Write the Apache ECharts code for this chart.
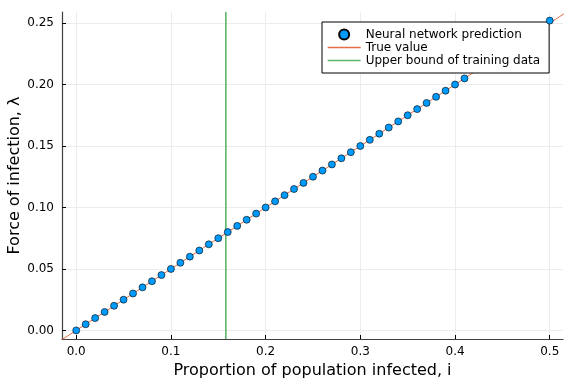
<!DOCTYPE html>
<html><head><meta charset="utf-8">
<script src="https://cdn.jsdelivr.net/npm/echarts@6/dist/echarts.min.js"></script>
<style>html,body{margin:0;padding:0;background:#fff}#c{width:576px;height:384px}</style>
</head><body><div id="c"></div>
<script>
// Data
const predX = [0.00,0.01,0.02,0.03,0.04,0.05,0.06,0.07,0.08,0.09,0.10,0.11,0.12,0.13,0.14,0.15,0.16,0.17,0.18,0.19,0.20,0.21,0.22,0.23,0.24,0.25,0.26,0.27,0.28,0.29,0.30,0.31,0.32,0.33,0.34,0.35,0.36,0.37,0.38,0.39,0.40,0.41,0.50];
const predY = [0.000,0.005,0.010,0.015,0.020,0.025,0.030,0.035,0.040,0.045,0.050,0.055,0.060,0.065,0.070,0.075,0.080,0.085,0.090,0.095,0.100,0.105,0.110,0.115,0.120,0.125,0.130,0.135,0.140,0.145,0.150,0.155,0.160,0.165,0.170,0.175,0.180,0.185,0.190,0.195,0.200,0.205,0.252];
const trueX = [-0.015, 0.515];
const trueY = [-0.0075, 0.2575];
const boundX = [0.158, 0.158];
const boundY = [-0.007, 0.259];
const xTicks = [0.0, 0.1, 0.2, 0.3, 0.4, 0.5];
const yTicks = [0.00, 0.05, 0.10, 0.15, 0.20, 0.25];
const xRange = [-0.015, 0.514];
const yRange = [-0.007, 0.259];
const names = ['Neural network prediction', 'True value', 'Upper bound of training data'];

const zip = (a, b) => a.map((v, i) => [v, b[i]]);
const pts = zip(predX, predY);
const font = 'DejaVu Sans';
const orange = '#E26F46', green = '#5DB56A', blue = '#009AFA';
const chart = echarts.init(document.getElementById('c'), null, {renderer: 'canvas'});
const axisCommon = {
  axisLine: {show: true, onZero: false, lineStyle: {color: '#404040', width: 1.2}},
  axisTick: {show: true, inside: true, length: 4, lineStyle: {color: '#000', width: 1}},
  splitLine: {show: true, lineStyle: {color: '#ececec', width: 1}},
  nameLocation: 'middle',
  nameMoveOverlap: false,
  nameTextStyle: {fontFamily: font, fontSize: 16, color: '#000'}
};
const scatterStyle = {color: blue, borderColor: '#000', borderWidth: 0.6, opacity: 1};
const hidden = {color: 'rgba(0,0,0,0)', borderWidth: 0, borderColor: 'rgba(0,0,0,0)'};
chart.setOption({
  animation: false,
  backgroundColor: '#fff',
  grid: {left: 62, right: 13, top: 12, bottom: 45, containLabel: false, outerBoundsMode: 'none'},
  xAxis: Object.assign({}, axisCommon, {
    type: 'value', min: xRange[0], max: xRange[1],
    name: 'Proportion of population infected, i', nameGap: 24,
    axisTick: Object.assign({}, axisCommon.axisTick, {customValues: xTicks}),
    axisLabel: {customValues: xTicks, margin: 7, fontFamily: font, fontSize: 12, color: '#000',
      formatter: v => v.toFixed(1)}
  }),
  yAxis: Object.assign({}, axisCommon, {
    type: 'value', min: yRange[0], max: yRange[1],
    name: 'Force of infection, λ', nameGap: 39,
    axisTick: Object.assign({}, axisCommon.axisTick, {customValues: yTicks}),
    axisLabel: {customValues: yTicks, margin: 8, fontFamily: font, fontSize: 12, color: '#000',
      formatter: v => v.toFixed(2)}
  }),
  legend: {
    left: 322, top: 22, orient: 'vertical', align: 'left', z: 4,
    backgroundColor: '#fff', borderColor: '#000', borderWidth: 1,
    padding: [6, 9, 6, 5], itemGap: 0, itemWidth: 33, itemHeight: 10,
    textStyle: {fontFamily: font, fontSize: 12, color: '#000', lineHeight: 13},
    data: [
      {name: names[0], icon: 'circle'},
      {name: names[1], itemStyle: hidden, lineStyle: {color: orange, width: 1.3, opacity: 1}},
      {name: names[2], itemStyle: hidden, lineStyle: {color: green, width: 1.3, opacity: 1}}
    ]
  },
  series: [
    {name: names[0], type: 'scatter', data: pts.slice(0, -1), symbol: 'circle', symbolSize: 7, z: 2,
     itemStyle: scatterStyle},
    {name: names[1], type: 'line', data: zip(trueX, trueY), symbol: 'none', showSymbol: false, z: 2,
     lineStyle: {color: orange, width: 1}, itemStyle: {color: orange}},
    {name: names[2], type: 'line', data: zip(boundX, boundY), symbol: 'none', showSymbol: false, z: 2,
     lineStyle: {color: green, width: 1.6}, itemStyle: {color: green}},
    {name: names[0], type: 'scatter', data: pts.slice(-1), symbol: 'circle', symbolSize: 7, z: 5,
     itemStyle: scatterStyle}
  ]
});
</script></body></html>
